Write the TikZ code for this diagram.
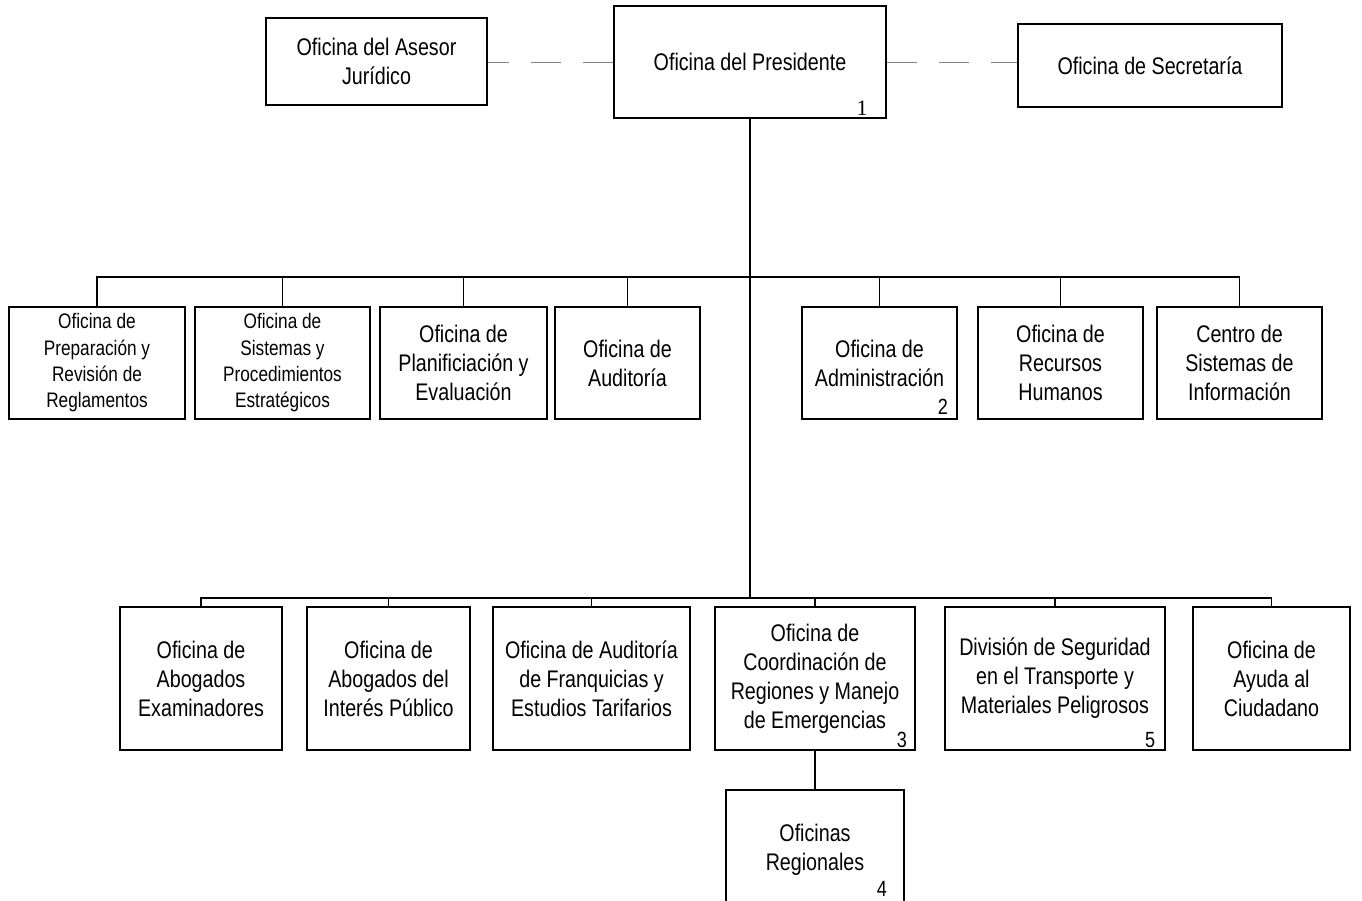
\documentclass[tikz,border=0pt]{standalone}
\usepackage{fontspec}
\setmainfont{Liberation Sans}[FakeStretch=0.82]
\newfontfamily\serifnum{Liberation Serif}
\tikzset{
	box/.style={draw,line width=1.2pt,align=center,inner sep=0pt,font=\fontsize{24}{29}\selectfont},
	smallbox/.style={box,font=\fontsize{21}{26.3}\selectfont},
	link/.style={line width=1.4pt},
	dashlink/.style={line width=0.9pt,gray,dash pattern=on 30pt off 22pt},
	num/.style={inner sep=0pt,font=\fontsize{22}{26}\selectfont}
}

\begin{document}
\begin{tikzpicture}[x=1pt,y=-1pt]
\useasboundingbox (0,0) rectangle (1362,900);
% top
\node[box,minimum width=272pt,minimum height=112pt] (pre) at (750,62) {Oficina del Presidente};
\node[box,minimum width=221pt,minimum height=87pt] (ase) at (376.5,61.5) {Oficina del Asesor\\Jurídico};
\node[box,minimum width=264pt,minimum height=83pt] (sec) at (1150,65.5) {Oficina de Secretaría};
\node[num] (k1) at (862,108) {\serifnum 1};
\draw[dashlink] (pre.west) -- (pre.west -| ase.east);
\draw[dashlink] (pre.east) -- (pre.east -| sec.west);

% middle row
\node[smallbox,minimum width=176pt,minimum height=112pt] (m1) at (97,363) {Oficina de\\Preparación y\\Revisión de\\Reglamentos};
\node[smallbox,minimum width=175pt,minimum height=112pt] (m2) at (282.5,363) {Oficina de\\Sistemas y\\Procedimientos\\Estratégicos};
\node[box,minimum width=167pt,minimum height=112pt] (m3) at (463.5,363) {Oficina de\\Planificiación y\\Evaluación};
\node[box,minimum width=145pt,minimum height=112pt] (m4) at (627.5,363) {Oficina de\\Auditoría};
\node[box,minimum width=155pt,minimum height=112pt] (m5) at (879.5,363) {Oficina de\\Administración};
\node[box,minimum width=165pt,minimum height=112pt] (m6) at (1060.5,363) {Oficina de\\Recursos\\Humanos};
\node[box,minimum width=165pt,minimum height=112pt] (m7) at (1239.5,363) {Centro de\\Sistemas de\\Información};
\node[num] (k2) at (943,407) {2};

% bottom row
\node[box,minimum width=162pt,minimum height=143pt] (n1) at (201,678.5) {Oficina de\\Abogados\\Examinadores};
\node[box,minimum width=163pt,minimum height=143pt] (n2) at (388.5,678.5) {Oficina de\\Abogados del\\Interés Público};
\node[box,minimum width=197pt,minimum height=143pt] (n3) at (591.5,678.5) {Oficina de Auditoría\\de Franquicias y\\Estudios Tarifarios};
\node[box,minimum width=200pt,minimum height=143pt] (n4) at (815,678.5) {Oficina de\\Coordinación de\\Regiones y Manejo\\de Emergencias};
\node[box,minimum width=220pt,minimum height=143pt] (n5) at (1055,678.5) {División de Seguridad\\en el Transporte y\\Materiales Peligrosos};
\node[box,minimum width=157pt,minimum height=143pt] (n6) at (1271.5,678.5) {Oficina de\\Ayuda al\\Ciudadano};
\node[num] (k3) at (902,740) {3};
\node[num] (k5) at (1150,740) {5};
\node[box,minimum width=178pt,minimum height=120pt] (reg) at (815,850) {Oficinas\\Regionales};
\node[num] (k4) at (882,889) {4};

% lines
\coordinate (bus1) at (750,277);
\coordinate (bus2) at (750,598);
\draw[link] (pre.south) -- (bus2);
\draw[link] (m1.north) |- (bus1) -| (m7.north);
\foreach \n in {m2,m3,m4,m5,m6}
	\draw[link] (\n.north) -- (\n.north |- bus1);
\draw[link] (n1.north) |- (bus2) -| (n6.north);
\foreach \n in {n2,n3,n4,n5}
	\draw[link] (\n.north) -- (\n.north |- bus2);
\draw[link] (n4.south) -- (reg.north);
\end{tikzpicture}
\end{document}
